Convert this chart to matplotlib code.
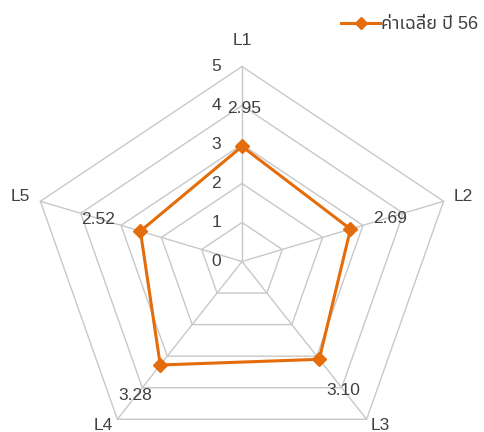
import numpy as np
import matplotlib
matplotlib.use("Agg")
import matplotlib.pyplot as plt

# Data
categories = ["L1", "L2", "L3", "L4", "L5"]
values = [2.95, 2.69, 3.10, 3.28, 2.52]
value_labels = ["2.95", "2.69", "3.10", "3.28", "2.52"]
rings = [0, 1, 2, 3, 4, 5]
series_name = "ค่าเฉลี่ย ปี 56"

ORANGE = "#E46C0A"
GRID = "#c8c8c8"
TEXT = "#404040"
FONT = ["Liberation Sans", "Noto Sans Thai", "Loma", "Garuda", "Tlwg Typo", "DejaVu Sans"]
plt.rcParams["font.family"] = FONT

W, H = 485, 432
fig = plt.figure(figsize=(W / 100, H / 100), dpi=100)
ax = fig.add_axes([0, 0, 1, 1])

# Radar drawn in Cartesian space; horizontal scale slightly wider than vertical
cx, cy = 242.0, 261.5          # centre (pixels)
sx, sy = 212.0 / 5, 195.0 / 5  # pixels per unit
ax.set_xlim(-cx / sx, (W - cx) / sx)
ax.set_ylim(-(H - cy) / sy, cy / sy)
ax.axis("off")

n = len(categories)
theta = np.arange(n) * 2 * np.pi / n
ux, uy = np.sin(theta), np.cos(theta)

# Grid rings and spokes
for r in rings[1:]:
    ax.plot(np.append(r * ux, r * ux[0]), np.append(r * uy, r * uy[0]),
            color=GRID, lw=1.0, zorder=1)
rmax = rings[-1]
for i in range(n):
    ax.plot([0, rmax * ux[i]], [0, rmax * uy[i]], color=GRID, lw=1.0, zorder=1)

# Radial tick labels along the first spoke
for r in rings:
    ax.annotate(str(r), (0, r), xytext=(-21, 0), textcoords="offset pixels",
                ha="right", va="center", fontsize=12.5, color=TEXT)

# Category labels
cat_offsets = [(0, 26), (20, 5), (14, -6), (-14, -6), (-20, 5)]
for i, c in enumerate(categories):
    ax.annotate(c, (rmax * ux[i], rmax * uy[i]), xytext=cat_offsets[i],
                textcoords="offset pixels", ha="center", va="center",
                fontsize=12.5, color=TEXT)

# Series
v = np.array(values)
px, py = v * ux, v * uy
ax.plot(np.append(px, px[0]), np.append(py, py[0]), color=ORANGE, lw=2.2,
        marker="D", markersize=7, markevery=list(range(n)), zorder=3,
        solid_joinstyle="miter")

# Data labels
lab_offsets = [(2, 38), (40, 11), (24, -31), (-25, -31), (-42, 12)]
for i, t in enumerate(value_labels):
    ax.annotate(t, (px[i], py[i]), xytext=lab_offsets[i],
                textcoords="offset pixels", ha="center", va="center",
                fontsize=12.5, color=TEXT, zorder=4)

# Legend
leg = ax.legend([plt.Line2D([], [], color=ORANGE, lw=2.2, marker="D", markersize=6)],
                [series_name], loc="upper right", bbox_to_anchor=(1.02, 1.0),
                frameon=False, fontsize=13, handlelength=2.2, handletextpad=0.05,
                labelcolor=TEXT)

fig.savefig("out.png", dpi=100)
